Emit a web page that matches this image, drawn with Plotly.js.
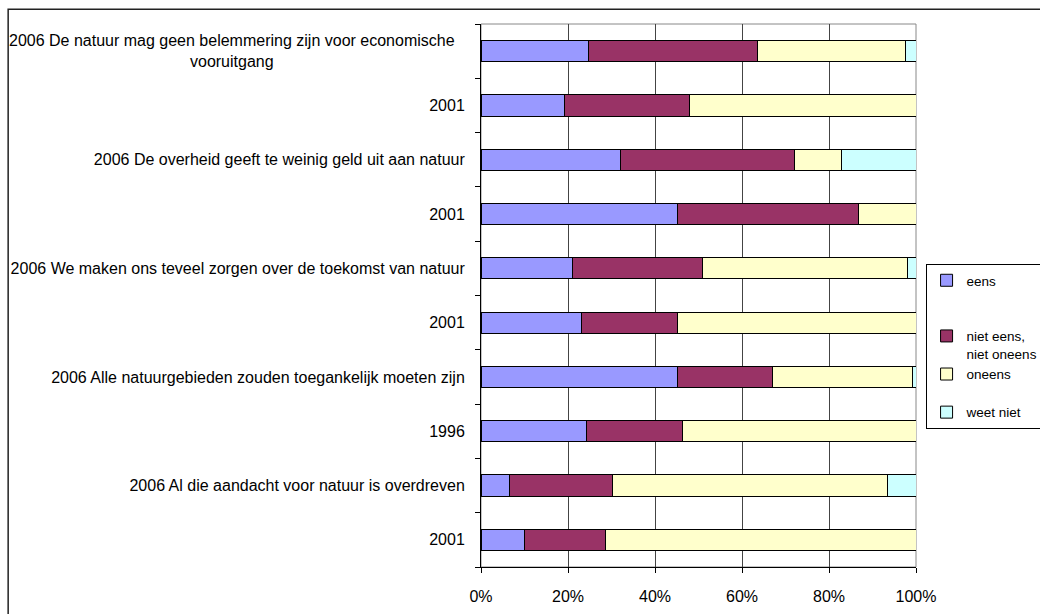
<!DOCTYPE html>
<html>
<head>
<meta charset="utf-8">
<script src="https://cdn.plot.ly/plotly-3.0.1.min.js"></script>
<style>
  html, body { margin: 0; padding: 0; background: #fff; }
  #chart { width: 1040px; height: 614px; }
</style>
</head>
<body>
<div id="chart"></div>
<script>
// Categories, top to bottom
const labels = [
  "2006 De natuur mag geen belemmering zijn voor economische<br>vooruitgang",
  "2001",
  "2006 De overheid geeft te weinig geld uit aan natuur",
  "2001",
  "2006 We maken ons teveel zorgen over de toekomst van natuur",
  "2001",
  "2006 Alle natuurgebieden zouden toegankelijk moeten zijn",
  "1996",
  "2006 Al die aandacht voor natuur is overdreven",
  "2001"
];

// Series values (percent)
const eens      = [24.7, 19.2, 32.0, 45.1, 21.1, 23.0, 45.1, 24.3,  6.6,  9.9];
const nietEens  = [38.8, 28.8, 40.0, 41.7, 29.9, 22.1, 22.0, 22.0, 23.7, 18.8];
const oneens    = [34.1, 52.0, 10.9, 13.2, 47.0, 54.9, 32.0, 53.7, 63.1, 71.3];
const weetNiet  = [ 2.4, null, 17.1, null,  2.0, null,  0.9, null,  6.6, null];

const seriesNames = ["eens", "niet eens,<br>niet oneens", "oneens", "weet niet"];
const legendNames = ["eens<br>\u00a0<br>\u00a0", "niet eens,<br>niet oneens", "oneens<br>\u00a0", "weet niet"];
const colors = ["#9999FF", "#993366", "#FFFFCC", "#CCFFFF"];

const xTicks = [0, 20, 40, 60, 80, 100];

const pos = labels.map((_, i) => i);
const seriesData = [eens, nietEens, oneens, weetNiet];

const FONT = "Liberation Sans, Arial, sans-serif";

const traces = seriesData.map((vals, k) => ({
  type: "bar",
  orientation: "h",
  name: legendNames[k],
  x: vals,
  y: pos,
  width: 0.39,
  marker: { color: colors[k], line: { color: "#000", width: 1 } },
  hoverinfo: "skip"
}));

// First label uses a centered multi-line annotation (Excel centers wrapped labels)
const tickText = labels.map((t, i) => (i === 0 ? "" : t));

const layout = {
  width: 1040,
  height: 614,
  margin: { l: 481, r: 124, t: 24, b: 47, autoexpand: false },
  paper_bgcolor: "#fff",
  plot_bgcolor: "#fff",
  barmode: "stack",
  bargap: 0,
  showlegend: true,
  font: { family: FONT, size: 16, color: "#000" },
  xaxis: {
    range: [0, 100],
    tickvals: xTicks,
    ticktext: xTicks.map(v => v + "%"),
    ticks: "outside",
    ticklen: 5,
    tickcolor: "#000",
    showgrid: true,
    gridcolor: "#444",
    gridwidth: 1,
    showline: true,
    linecolor: "#000",
    linewidth: 1,
    zeroline: false,
    ticklabelstandoff: 10,
    tickfont: { family: FONT, size: 16, color: "#000" },
    fixedrange: true
  },
  yaxis: {
    range: [labels.length - 0.5, -0.5],
    tickvals: pos,
    ticktext: tickText,
    ticks: "",
    showgrid: false,
    showline: true,
    linecolor: "#000",
    linewidth: 1,
    zeroline: false,
    ticklabelstandoff: 12,
    tickfont: { family: FONT, size: 16, color: "#000" },
    minor: {
      tickmode: "array",
      tickvals: pos.concat([labels.length]).map(v => v - 0.5),
      ticks: "outside",
      ticklen: 5,
      tickcolor: "#000",
      showgrid: false
    },
    fixedrange: true
  },
  legend: {
    x: 1.022,
    xanchor: "left",
    y: 0.558,
    yanchor: "top",
    bgcolor: "#fff",
    bordercolor: "#000",
    borderwidth: 1,
    font: { family: FONT, size: 13.5, color: "#000" },
    valign: "top",
    traceorder: "normal",
    itemclick: false,
    itemdoubleclick: false
  },
  annotations: [{
    text: labels[0],
    xref: "paper",
    yref: "y",
    x: -0.055,
    y: 0,
    xanchor: "right",
    yanchor: "middle",
    align: "center",
    showarrow: false,
    font: { family: FONT, size: 16, color: "#000" }
  }],
  shapes: [
    { type: "rect", xref: "paper", yref: "paper", x0: 0, x1: 1, y0: 0, y1: 1,
      line: { color: "#888", width: 1 }, layer: "below" },
    { type: "rect", xref: "paper", yref: "paper", x0: -1.087, x1: 1.5, y0: -0.2, y1: 1.027,
      line: { color: "#222", width: 1.5 }, fillcolor: "rgba(0,0,0,0)", layer: "below" }
  ]
};

Plotly.newPlot("chart", traces, layout, { displayModeBar: false, staticPlot: true });
</script>
</body>
</html>
